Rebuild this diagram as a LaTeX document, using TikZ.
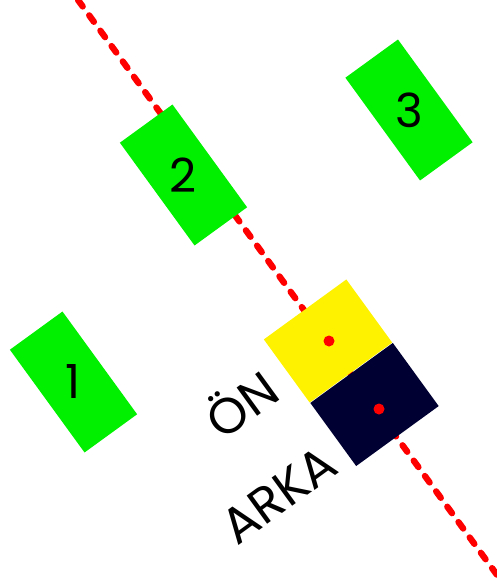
\documentclass[tikz,border=0pt]{standalone}
\usepackage{fontspec}
\setmainfont{Poppins}
\definecolor{boxgreen}{RGB}{0,240,0}
\definecolor{navy}{RGB}{0,0,50}
\definecolor{dotred}{RGB}{255,0,0}
\begin{document}
\begin{tikzpicture}[x=1pt,y=-1pt,
  greenbox/.style={draw=none,fill=boxgreen,minimum width=65pt,minimum height=127pt,inner sep=0pt,rotate=36},
  numlabel/.style={font=\fontsize{47}{47}\selectfont,inner sep=0pt},
  sidebox/.style={draw=none,minimum width=102pt,minimum height=78pt,inner sep=0pt,rotate=36},
  reddot/.style={circle,fill=dotred,minimum size=11pt,inner sep=0pt},
  sidelabel/.style={font=\fontsize{50}{50}\selectfont,inner sep=0pt,rotate=36},
  axis/.style={draw=dotred,line width=6.3pt,line cap=round,dash pattern=on 8pt off 11pt}]
\useasboundingbox (0,0) rectangle (497,588);
\clip (0,0) rectangle (497,588);

% dashed axis line
\coordinate (axisA) at (78,0);
\coordinate (axisB) at (508,590);
\draw[axis] (axisA) -- (axisB);

% green boxes with their numbers
\node[greenbox] (b1) at (73.5,382) {};
\node[numlabel] (n1) at (b1) {1};
\node[greenbox] (b2) at (183.5,175) {};
\node[numlabel] (n2) at (b2) {2};
\node[greenbox] (b3) at (409,110) {};
\node[numlabel] (n3) at (b3) {3};

% front and back halves
\node[sidebox,fill=yellow] (front) at (328,341) {};
\node[sidebox,fill=navy] (back) at (374.5,404.5) {};
\node[reddot] (dfront) at (329,341) {};
\node[reddot] (dback) at (379,409) {};

% labels
\node[sidelabel] (lfront) at (240,402) {ÖN};
\node[sidelabel] (lback) at (279,495) {ARKA};
\end{tikzpicture}
\end{document}
